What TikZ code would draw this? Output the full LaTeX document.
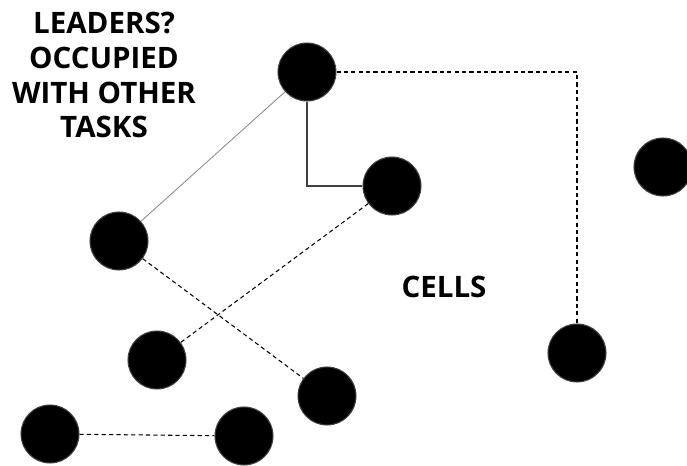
\documentclass[tikz,border=0pt]{standalone}
\usepackage{fontspec}
\setmainfont{Open Sans}

\tikzset{
    cell/.style={circle, fill=black, draw=black!75, line width=0.6pt, minimum size=1.16cm, inner sep=0pt},
    link/.style={dashed, dash pattern=on 2.4pt off 1.8pt, line width=0.6pt, black},
    caption/.style={font=\bfseries\fontsize{16.8}{19.9}\selectfont, align=center}
}

\begin{document}
\begin{tikzpicture}[x=0.02cm, y=-0.02cm]

\useasboundingbox (0,0) rectangle (687,466);

% Draw the cells at pixel coordinates

%%%%%%%%%%%%%%%%%%%% Cells %%%%%%%%%%%%%%%%%%%%%%%%%%

\node[cell] (c1) at (307,72) {};
\node[cell] (c2) at (392,186) {};
\node[cell] (c3) at (663,167) {};
\node[cell] (c4) at (577,353) {};
\node[cell] (c5) at (119,241) {};
\node[cell] (c6) at (157,360) {};
\node[cell] (c7) at (327,396) {};
\node[cell] (c8) at (50,434) {};
\node[cell] (c9) at (244,436) {};

%labels
\node[caption] (leaders) at (104,75) {LEADERS?\\OCCUPIED\\WITH OTHER\\TASKS};
\node[caption] (cells) at (444,287) {CELLS};

%%%%%%%%%%%%%%%%%%%% Links %%%%%%%%%%%%%%%%%%%%%%%%%%

%solid links
\path [-, draw=black!45, line width=0.5pt] (c1) edge (c5);
\draw [-, draw=black!75, line width=0.9pt] (c1) |- (c2);

%dashed links
\draw [link] (c1) -| (c4);
\path [link] (c2) edge (c6);
\path [link] (c5) edge (c7);
\path [link] (c8) edge (c9);

\end{tikzpicture}
\end{document}
